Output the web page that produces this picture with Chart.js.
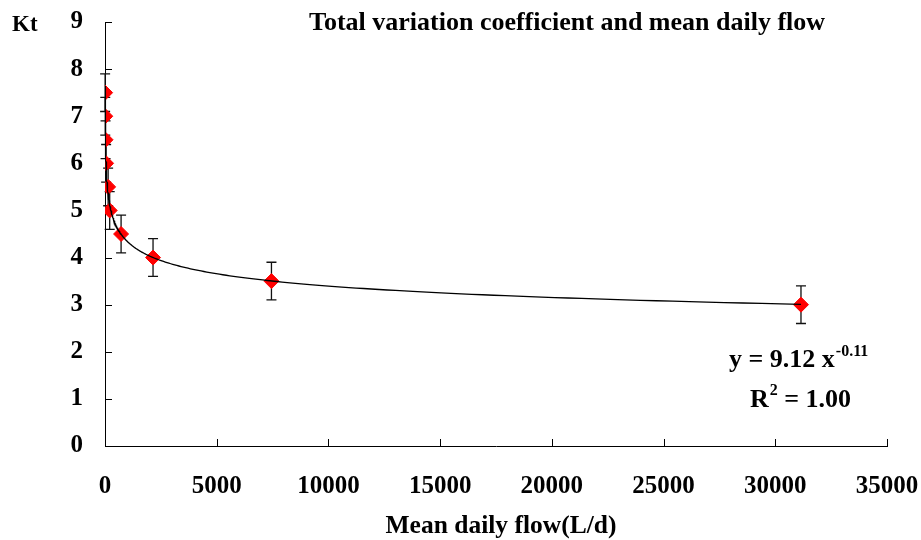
<!DOCTYPE html>
<html>
<head>
<meta charset="utf-8">
<script src="https://cdn.jsdelivr.net/npm/chart.js@4/dist/chart.umd.min.js"></script>
<style>
    html, body { margin: 0; padding: 0; background: #fff; }
    #wrap { width: 921px; height: 540px; }
</style>
</head>
<body>
<div id="wrap"><canvas id="chart-kt"></canvas></div>
<script>
// values
const flowValues = [5, 12, 25, 50, 140, 210, 720, 2150, 7450, 31150]
const ktValues = [7.5, 7.0, 6.5, 6.0, 5.5, 5.0, 4.5, 4.0, 3.5, 3.0]
const ktErrors = [0.4, 0.4, 0.4, 0.4, 0.4, 0.4, 0.4, 0.4, 0.4, 0.4]
const xTicks = [0, 5000, 10000, 15000, 20000, 25000, 30000, 35000]
const yTicks = [0, 1, 2, 3, 4, 5, 6, 7, 8, 9]

const chartTitle = 'Total variation coefficient and mean daily flow'
const xTitle = 'Mean daily flow(L/d)'
const yTitle = 'Kt'

const serif = '"Liberation Serif", "Times New Roman", serif'

// power trendline y = a * x^b, least squares on the logs (like Excel does)
function powerFit(xs, ys) {
    const lx = xs.map(v => Math.log(v))
    const ly = ys.map(v => Math.log(v))
    const mx = lx.reduce((s, v) => s + v, 0) / lx.length
    const my = ly.reduce((s, v) => s + v, 0) / ly.length
    let sxy = 0, sxx = 0
    lx.forEach((v, i) => {
        sxy += (v - mx) * (ly[i] - my)
        sxx += (v - mx) * (v - mx)
    })
    const b = sxy / sxx
    const a = Math.exp(my - b * mx)
    return { a, b }
}

const fit = powerFit(flowValues, ktValues)
const xMin = Math.min(...flowValues)
const xMax = Math.max(...flowValues)
const trendPoints = []
for (let i = 0; i <= 300; i++) {
    const x = xMin * Math.pow(xMax / xMin, i / 300)
    trendPoints.push({ x: x, y: fit.a * Math.pow(x, fit.b) })
}

const scatterPoints = flowValues.map((x, i) => ({ x: x, y: ktValues[i] }))

// no automatic room for half labels, the chart area is set by the layout padding
function fixScale(scale, size) {
    if (scale.isHorizontal()) scale.height = size
    else scale.width = size
    scale.paddingLeft = 0
    scale.paddingRight = 0
    scale.paddingTop = 0
    scale.paddingBottom = 0
}

// error bars + inside tick marks + texts
const errorBarPlugin = {
    id: 'errorBars',
    beforeDatasetsDraw(chart) {
        const ctx = chart.ctx
        const xs = chart.scales.x
        const ys = chart.scales.y
        ctx.save()
        ctx.strokeStyle = '#111'
        ctx.lineWidth = 1.3
        flowValues.forEach((fx, i) => {
            const px = xs.getPixelForValue(fx)
            const top = ys.getPixelForValue(ktValues[i] + ktErrors[i])
            const bot = ys.getPixelForValue(ktValues[i] - ktErrors[i])
            ctx.beginPath()
            ctx.moveTo(px, top)
            ctx.lineTo(px, bot)
            ctx.moveTo(px - 5, top)
            ctx.lineTo(px + 5, top)
            ctx.moveTo(px - 5, bot)
            ctx.lineTo(px + 5, bot)
            ctx.stroke()
        })

        ctx.strokeStyle = '#000'
        ctx.lineWidth = 1
        xTicks.forEach(t => {
            const px = Math.round(xs.getPixelForValue(t)) + 0.5
            ctx.beginPath()
            ctx.moveTo(px, ys.bottom)
            ctx.lineTo(px, ys.bottom - 7)
            ctx.stroke()
        })
        yTicks.forEach(t => {
            const py = Math.round(ys.getPixelForValue(t)) + 0.5
            ctx.beginPath()
            ctx.moveTo(xs.left, py)
            ctx.lineTo(xs.left + 7, py)
            ctx.stroke()
        })
        ctx.restore()
    },
    afterDraw(chart) {
        const ctx = chart.ctx
        ctx.save()
        ctx.fillStyle = '#000'
        ctx.textBaseline = 'alphabetic'

        ctx.textAlign = 'center'
        ctx.font = 'bold 26px ' + serif
        ctx.fillText(chartTitle, 567, 30)
        ctx.font = 'bold 25.5px ' + serif
        ctx.fillText(xTitle, 501, 533)
        ctx.textAlign = 'left'
        ctx.font = 'bold 23px ' + serif
        ctx.fillText(yTitle, 12, 31)

        // equation with superscripts
        const big = 'bold 26px ' + serif
        const small = 'bold 16px ' + serif
        let x = 729
        ctx.font = big
        ctx.fillText('y = 9.12 x', x, 367)
        x += ctx.measureText('y = 9.12 x').width
        ctx.font = small
        ctx.fillText('-0.11', x + 1, 356)

        x = 750
        ctx.font = big
        ctx.fillText('R', x, 407)
        x += ctx.measureText('R').width
        ctx.font = small
        ctx.fillText('2', x + 1, 395)
        x += ctx.measureText('2').width + 1
        ctx.font = big
        ctx.fillText(' = 1.00', x, 407)
        ctx.restore()
    }
}

new Chart(document.getElementById('chart-kt').getContext('2d'), {
    type: 'scatter',
    data: {
        datasets: [
            {
                label: 'trend',
                data: trendPoints,
                showLine: true,
                borderColor: '#000',
                borderWidth: 1.3,
                pointRadius: 0,
                tension: 0,
                order: 0
            },
            {
                label: 'Kt',
                data: scatterPoints,
                pointStyle: 'rectRot',
                pointRadius: 7.5,
                pointBackgroundColor: '#ff0000',
                pointBorderColor: '#ff0000',
                pointBorderWidth: 1,
                order: 1
            }
        ]
    },
    options: {
        responsive: true,
        maintainAspectRatio: false,
        animation: false,
        layout: { padding: { left: 0, right: 34, top: 22, bottom: 0 } },
        plugins: {
            legend: { display: false },
            tooltip: { enabled: false }
        },
        scales: {
            x: {
                type: 'linear',
                min: 0,
                max: 35000,
                afterBuildTicks: scale => { scale.ticks = xTicks.map(v => ({ value: v })) },
                afterFit: scale => fixScale(scale, 94),
                grid: { display: false, drawTicks: false },
                border: { display: true, color: '#000', width: 1 },
                ticks: {
                    padding: 26,
                    color: '#000',
                    maxRotation: 0,
                    callback: v => String(v),
                    font: { family: serif, size: 25, weight: 'bold' }
                }
            },
            y: {
                type: 'linear',
                min: 0,
                max: 9,
                afterBuildTicks: scale => { scale.ticks = yTicks.map(v => ({ value: v })) },
                afterFit: scale => fixScale(scale, 105),
                grid: { display: false, drawTicks: false },
                border: { display: true, color: '#000', width: 1 },
                ticks: {
                    padding: 22,
                    color: '#000',
                    callback: v => String(v),
                    font: { family: serif, size: 25, weight: 'bold' }
                }
            }
        }
    },
    plugins: [errorBarPlugin]
})
</script>
</body>
</html>
